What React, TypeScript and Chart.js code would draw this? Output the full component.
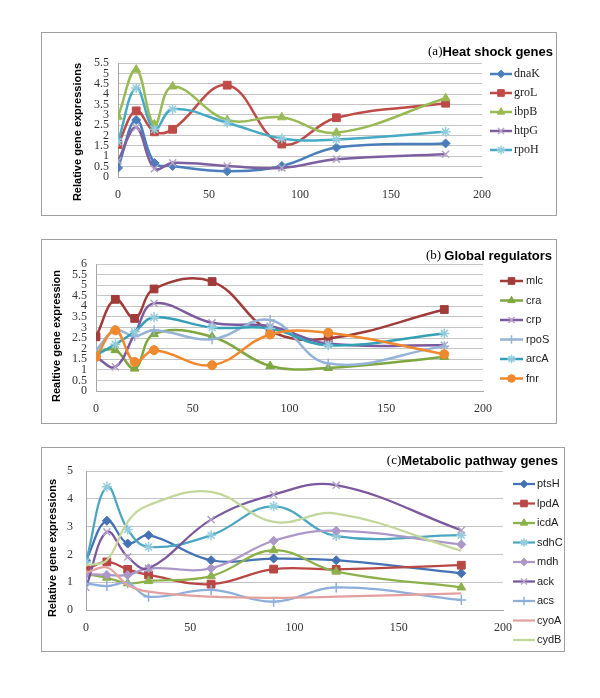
import React, { useEffect, useRef } from "react";
import { Chart, registerables } from "chart.js";
import { drawPoint } from "chart.js/helpers";

Chart.register(...registerables);

// ---------- data ----------
const timePoints = [0, 10, 20, 30, 60, 90, 120, 180];

// (a) Heat shock genes
const dnaK = [0.44, 2.75, 0.68, 0.53, 0.28, 0.53, 1.42, 1.62];
const groL = [1.57, 3.19, 2.18, 2.3, 4.43, 1.59, 2.86, 3.56];
const ibpB = [2.91, 5.18, 2.54, 4.37, 2.75, 2.88, 2.14, 3.8];
const htpG = [0.78, 2.39, 0.4, 0.68, 0.53, 0.44, 0.86, 1.1];
const rpoH = [1.7, 4.29, 2.3, 3.27, 2.62, 1.86, 1.81, 2.18];

// (b) Global regulators
const mlc = [2.56, 4.33, 3.43, 4.82, 5.17, 2.84, 2.48, 3.85];
const cra = [1.85, 1.93, 1.06, 2.69, 2.56, 1.18, 1.09, 1.61];
const crp = [1.6, 1.14, 2.7, 4.14, 3.22, 3.06, 2.24, 2.16];
const rpoS = [1.93, 2.87, 2.59, 2.87, 2.45, 3.35, 1.3, 2.12];
const arcA = [1.69, 2.21, 2.8, 3.48, 3.0, 2.95, 2.16, 2.72];
const fnr = [1.61, 2.87, 1.37, 1.93, 1.22, 2.67, 2.75, 1.74];

// (c) Metabolic pathway genes
const ptsH = [1.79, 3.21, 2.39, 2.69, 1.79, 1.85, 1.79, 1.32];
const lpdA = [1.46, 1.73, 1.46, 1.26, 0.93, 1.47, 1.46, 1.61];
const icdA = [1.29, 1.16, 0.96, 1.04, 1.22, 2.15, 1.38, 0.81];
const sdhC = [1.73, 4.43, 2.9, 2.27, 2.69, 3.73, 2.66, 2.69];
const mdh = [1.29, 1.26, 1.26, 1.5, 1.5, 2.49, 2.85, 2.36];
const ack = [0.81, 2.81, 1.91, 1.5, 3.25, 4.15, 4.49, 2.87];
const acs = [0.96, 0.86, 0.96, 0.48, 0.72, 0.3, 0.81, 0.36];
const cyoA = [1.34, 1.53, 0.9, 0.66, 0.48, 0.44, 0.48, 0.6];
const cydB = [1.61, 1.79, 3.17, 3.77, 4.25, 3.17, 3.47, 2.13];

// ---------- styling / layout ----------
type Marker = "rectRot" | "rect" | "triangle" | "crossRot" | "star" | "circle" | "cross" | null;

interface Series {
  label: string;
  values: number[];
  line: string;
  mark: string;
  marker: Marker;
  radius: number;
}

interface Panel {
  left: number;
  top: number;
  width: number;
  height: number;
  area: { left: number; top: number; right: number; bottom: number };
  yMax: number;
  yStep: number;
  yPad: number;
  yTitle: string;
  yTitleX: number;
  yTitleY: number;
  prefix: string;
  heading: string;
  headingRight: number;
  headingY: number;
  headingSize: number;
  legend: { x1: number; x2: number; textX: number; y0: number; dy: number; font: string };
  lineWidth: number;
  series: Series[];
}

const SERIF = "'Liberation Serif', 'DejaVu Serif', serif";
const SANS = "'Liberation Sans', Arial, sans-serif";

const panels: Panel[] = [
  {
    left: 41, top: 32, width: 516, height: 184,
    area: { left: 77, top: 31, right: 441, bottom: 145 },
    yMax: 5.5, yStep: 0.5, yPad: 9,
    yTitle: "Relative gene expressions", yTitleX: 37, yTitleY: 100,
    prefix: "(a)", heading: "Heat shock genes", headingRight: 512, headingY: 20, headingSize: 13,
    legend: { x1: 449, x2: 471, textX: 473, y0: 42, dy: 19, font: `12px ${SERIF}` },
    lineWidth: 2.5,
    series: [
      { label: "dnaK", values: dnaK, line: "#4A7EBB", mark: "#4A7EBB", marker: "rectRot", radius: 4.5 },
      { label: "groL", values: groL, line: "#BE4B48", mark: "#BE4B48", marker: "rect", radius: 5.5 },
      { label: "ibpB", values: ibpB, line: "#98B954", mark: "#98B954", marker: "triangle", radius: 5 },
      { label: "htpG", values: htpG, line: "#7D60A0", mark: "#B3A2C7", marker: "crossRot", radius: 5 },
      { label: "rpoH", values: rpoH, line: "#46AAC5", mark: "#93CDDD", marker: "star", radius: 5 },
    ],
  },
  {
    left: 41, top: 239, width: 516, height: 185,
    area: { left: 55, top: 25, right: 442, bottom: 152 },
    yMax: 6, yStep: 0.5, yPad: 9,
    yTitle: "Realtive gene expression", yTitleX: 16, yTitleY: 97,
    prefix: "(b) ", heading: "Global regulators", headingRight: 511, headingY: 17, headingSize: 13,
    legend: { x1: 459, x2: 482, textX: 485, y0: 42, dy: 19.5, font: `11px ${SANS}` },
    lineWidth: 2.5,
    series: [
      { label: "mlc", values: mlc, line: "#A03C3A", mark: "#A03C3A", marker: "rect", radius: 5.5 },
      { label: "cra", values: cra, line: "#7EA83F", mark: "#7EA83F", marker: "triangle", radius: 5 },
      { label: "crp", values: crp, line: "#7B5A9E", mark: "#B3A2C7", marker: "crossRot", radius: 5 },
      { label: "rpoS", values: rpoS, line: "#95B3D7", mark: "#95B3D7", marker: "cross", radius: 5 },
      { label: "arcA", values: arcA, line: "#34A0B8", mark: "#93CDDD", marker: "star", radius: 5 },
      { label: "fnr", values: fnr, line: "#F0892E", mark: "#F0892E", marker: "circle", radius: 4.5 },
    ],
  },
  {
    left: 41, top: 447, width: 524, height: 205,
    area: { left: 45, top: 24, right: 462, bottom: 163 },
    yMax: 5, yStep: 1, yPad: 13,
    yTitle: "Relative gene expressions", yTitleX: 12, yTitleY: 101,
    prefix: "(c)", heading: "Metabolic pathway genes", headingRight: 517, headingY: 14, headingSize: 13,
    legend: { x1: 472, x2: 494, textX: 496, y0: 37, dy: 19.5, font: `11px ${SANS}` },
    lineWidth: 2.25,
    series: [
      { label: "ptsH", values: ptsH, line: "#4472B4", mark: "#4472B4", marker: "rectRot", radius: 4.5 },
      { label: "lpdA", values: lpdA, line: "#B94744", mark: "#B94744", marker: "rect", radius: 5.5 },
      { label: "icdA", values: icdA, line: "#8CB14C", mark: "#8CB14C", marker: "triangle", radius: 5 },
      { label: "sdhC", values: sdhC, line: "#4BA7C1", mark: "#93CDDD", marker: "star", radius: 5 },
      { label: "mdh", values: mdh, line: "#AC98C8", mark: "#AC98C8", marker: "rectRot", radius: 4.5 },
      { label: "ack", values: ack, line: "#7A579F", mark: "#B3A2C7", marker: "crossRot", radius: 5 },
      { label: "acs", values: acs, line: "#8EAEDB", mark: "#8EAEDB", marker: "cross", radius: 5 },
      { label: "cyoA", values: cyoA, line: "#E2A09E", mark: "#E2A09E", marker: null, radius: 0 },
      { label: "cydB", values: cydB, line: "#C3D69B", mark: "#C3D69B", marker: null, radius: 0 },
    ],
  },
];

const strokeOnly = (m: Marker) => m === "crossRot" || m === "star" || m === "cross";

function decorPlugin(p: Panel) {
  return {
    id: "decor",
    beforeDraw(chart: any) {
      const ctx = chart.ctx;
      ctx.save();
      ctx.fillStyle = "#ffffff";
      ctx.fillRect(0, 0, chart.width, chart.height);
      ctx.restore();
    },
    afterDraw(chart: any) {
      const ctx: CanvasRenderingContext2D = chart.ctx;
      ctx.save();
      // frame
      ctx.strokeStyle = "#a0a0a0";
      ctx.lineWidth = 1;
      ctx.strokeRect(0.5, 0.5, chart.width - 1, chart.height - 1);

      // heading
      const pf = `${p.headingSize}px ${SERIF}`;
      const hf = `bold ${p.headingSize}px ${SANS}`;
      ctx.font = pf;
      const w1 = ctx.measureText(p.prefix).width;
      ctx.font = hf;
      const w2 = ctx.measureText(p.heading).width;
      const x0 = p.headingRight - w1 - w2;
      ctx.fillStyle = "#000";
      ctx.textBaseline = "middle";
      ctx.textAlign = "left";
      ctx.font = pf;
      ctx.fillText(p.prefix, x0, p.headingY);
      ctx.font = hf;
      ctx.fillText(p.heading, x0 + w1, p.headingY);

      // y axis title
      ctx.save();
      ctx.translate(p.yTitleX, p.yTitleY);
      ctx.rotate(-Math.PI / 2);
      ctx.textAlign = "center";
      ctx.textBaseline = "middle";
      ctx.font = `bold 11px ${SANS}`;
      ctx.fillStyle = "#000";
      ctx.fillText(p.yTitle, 0, 0);
      ctx.restore();

      // legend
      const lg = p.legend;
      p.series.forEach((s, i) => {
        const y = lg.y0 + i * lg.dy;
        ctx.strokeStyle = s.line;
        ctx.lineWidth = p.lineWidth;
        ctx.beginPath();
        ctx.moveTo(lg.x1, y);
        ctx.lineTo(lg.x2, y);
        ctx.stroke();
        if (s.marker) {
          ctx.fillStyle = s.mark;
          ctx.strokeStyle = s.mark;
          ctx.lineWidth = strokeOnly(s.marker) ? 1.5 : 1;
          drawPoint(ctx, { pointStyle: s.marker, radius: s.radius * 0.85, borderWidth: ctx.lineWidth, rotation: 0 } as any, (lg.x1 + lg.x2) / 2, y);
        }
        ctx.fillStyle = "#222";
        ctx.font = lg.font;
        ctx.textAlign = "left";
        ctx.textBaseline = "middle";
        ctx.fillText(s.label, lg.textX, y);
      });
      ctx.restore();
    },
  };
}

function PanelChart({ p }: { p: Panel }) {
  const ref = useRef<HTMLCanvasElement>(null);
  useEffect(() => {
    if (!ref.current) return;
    const n = p.series.length;
    const chart = new Chart(ref.current, {
      type: "line",
      data: {
        datasets: p.series.map((s, i) => ({
          label: s.label,
          data: timePoints.map((t, k) => ({ x: t, y: s.values[k] })),
          borderColor: s.line,
          backgroundColor: s.mark,
          pointStyle: s.marker || "circle",
          pointRadius: s.marker ? s.radius : 0,
          pointBackgroundColor: s.mark,
          pointBorderColor: s.mark,
          pointBorderWidth: strokeOnly(s.marker) ? 1.5 : 1,
          borderWidth: p.lineWidth,
          tension: 0.4,
          fill: false,
          order: n - i,
        })),
      },
      options: {
        animation: false,
        responsive: false,
        events: [],
        layout: { padding: { left: 0, top: p.area.top, right: p.width - p.area.right, bottom: 0 } },
        plugins: { legend: { display: false }, title: { display: false }, tooltip: { enabled: false } },
        scales: {
          x: {
            type: "linear",
            min: 0,
            max: 200,
            grid: { display: false, drawTicks: false },
            border: { display: true, color: "#a6a6a6" },
            ticks: { stepSize: 50, padding: 11, autoSkip: false, maxRotation: 0, color: "#333", font: { family: SERIF, size: 12 } },
            afterFit: (s: any) => { s.height = p.height - p.area.bottom; },
          },
          y: {
            type: "linear",
            min: 0,
            max: p.yMax,
            grid: { color: "#c4c4c4", drawTicks: false, lineWidth: 1 },
            border: { display: true, color: "#a6a6a6" },
            ticks: {
              stepSize: p.yStep,
              autoSkip: false,
              padding: p.yPad,
              color: "#333",
              font: { family: SERIF, size: 12 },
              callback: (v: any) => String(v),
            },
            afterFit: (s: any) => { s.width = p.area.left; },
          },
        },
      } as any,
      plugins: [decorPlugin(p)],
    });
    return () => chart.destroy();
  }, [p]);
  return (
    <canvas
      ref={ref}
      width={p.width}
      height={p.height}
      style={{ position: "absolute", left: p.left, top: p.top, width: p.width, height: p.height }}
    />
  );
}

export default function App() {
  return (
    <div style={{ position: "absolute", left: 0, top: 0, width: 600, height: 698, background: "#fff" }}>
      {panels.map((p, i) => (
        <PanelChart key={i} p={p} />
      ))}
    </div>
  );
}
